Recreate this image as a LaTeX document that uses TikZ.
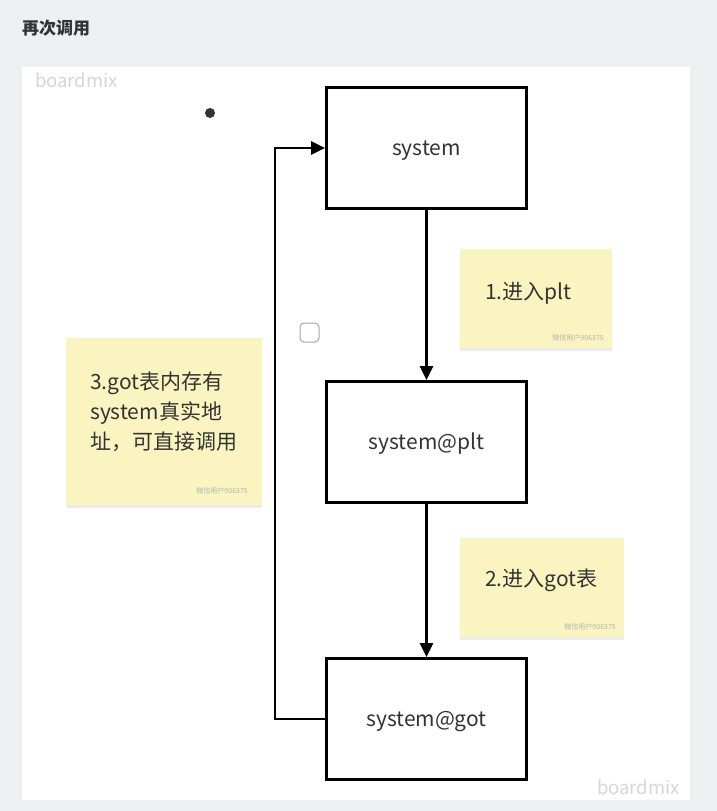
\documentclass[tikz,border=0pt]{standalone}
\usepackage{fontspec}
\setmainfont{Noto Sans CJK SC}
\usetikzlibrary{arrows.meta,positioning,shadows}
\definecolor{bgc}{HTML}{EDEFF1}
\definecolor{notec}{HTML}{FAF5C0}
\definecolor{inkc}{HTML}{333333}
\definecolor{wmc}{HTML}{D6D6D6}

\begin{document}
\begin{tikzpicture}[x=1pt,y=-1pt,>={Triangle[length=14pt,width=13pt]},
  box/.style={draw=black,line width=3pt,minimum width=200pt,minimum height=121pt,text height=15pt,text depth=0pt,font=\fontsize{21}{24}\selectfont,text=inkc},
  note/.style={fill=notec,draw=none,drop shadow={shadow xshift=0pt,shadow yshift=-3pt,opacity=0.08,fill=black}},
  notetxt/.style={anchor=west,inner sep=0pt,font=\fontsize{21}{30}\selectfont,text=inkc,align=left},
  uid/.style={anchor=south east,inner sep=0pt,font=\fontsize{7}{8}\selectfont,text=black!30},
  brand/.style={inner sep=0pt,font=\fontsize{18.5}{22}\selectfont,text=wmc}]
\useasboundingbox (0,0) rectangle (717,811);
\fill[bgc] (0,0) rectangle (717,811);
\fill[white] (22,67) rectangle (690,800);
\node[anchor=west,inner sep=0pt,font=\fontsize{17}{20}\selectfont\bfseries,text=inkc] (title) at (22,28) {再次调用};
\node[brand,anchor=west] (bm1) at (35,80) {boardmix};
\node[brand,anchor=east] (bm2) at (680,787) {boardmix};
\fill[inkc] (210,113) circle (5);
\draw[black!35,line width=1pt,rounded corners=4pt] (300,323) rectangle (319,342);
% call chain
\node[box] (sys) at (426.5,148) {system};
\node[box] (plt) at (426.5,442) {system@plt};
\node[box] (got) at (426.5,719) {system@got};
\draw[->,line width=2.6pt] (sys)--(plt);
\draw[->,line width=2.6pt] (plt)--(got);
\draw[->,line width=2.6pt] (got.west) -- ++(-50,0) |- (sys.west);
% sticky notes
\node[note,minimum width=152pt,minimum height=99pt] (n1) at (536,298.5) {};
\node[notetxt] (t1) at (485,293) {1.进入plt};
\node[uid] (u1) at (604,341) {微信用户906375};
\node[note,minimum width=164pt,minimum height=99pt] (n2) at (542,587.5) {};
\node[notetxt] (t2) at (485,580) {2.进入got表};
\node[uid] (u2) at (616,630) {微信用户906375};
\node[note,minimum width=196pt,minimum height=167pt] (n3) at (164,421.5) {};
\node[notetxt] (t3) at (90,412) {3.got表内存有\\system真实地\\址，可直接调用};
\node[uid] (u3) at (248,494) {微信用户906375};
\end{tikzpicture}
\end{document}
